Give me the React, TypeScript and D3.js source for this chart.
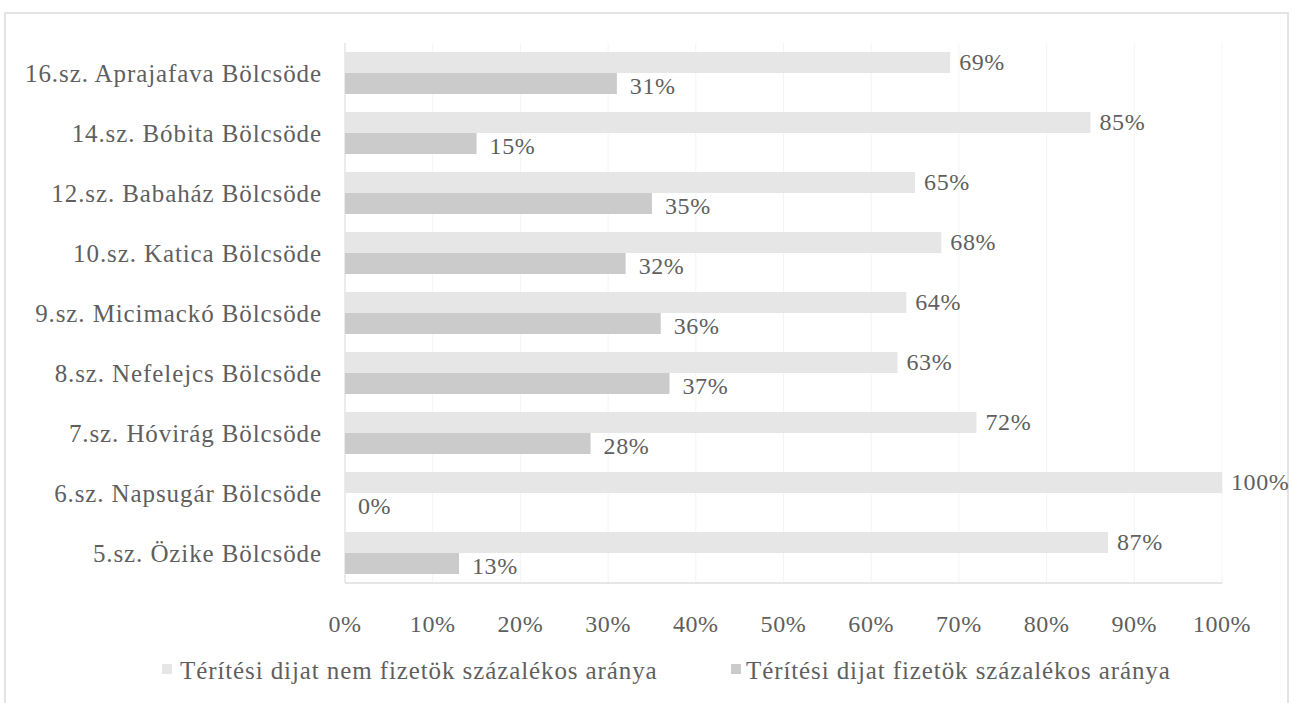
import React from "react";
import * as d3 from "d3";

const categories: string[] = [
  "16.sz. Aprajafava Bölcsöde",
  "14.sz. Bóbita Bölcsöde",
  "12.sz. Babaház Bölcsöde",
  "10.sz. Katica Bölcsöde",
  "9.sz. Micimackó Bölcsöde",
  "8.sz. Nefelejcs Bölcsöde",
  "7.sz. Hóvirág Bölcsöde",
  "6.sz. Napsugár Bölcsöde",
  "5.sz. Özike Bölcsöde",
];
// Térítési díjat nem fizetők (light) / fizetők (dark), percent
const nemFizetok: number[] = [69, 85, 65, 68, 64, 63, 72, 100, 87];
const fizetok: number[] = [31, 15, 35, 32, 36, 37, 28, 0, 13];
const xTicks: number[] = [0, 10, 20, 30, 40, 50, 60, 70, 80, 90, 100];
const seriesNames: string[] = [
  "Térítési dijat nem fizetök százalékos aránya",
  "Térítési dijat fizetök százalékos aránya",
];

const W = 1292;
const H = 703;
const FONT = "Liberation Serif, DejaVu Serif, serif";
const TXT = "#5f5f5f";
const LIGHT = "#e6e6e6";
const DARK = "#cbcbcb";

export default function App() {
  const x = d3.scaleLinear().domain([0, 100]).range([345, 1222]);
  const y = d3
    .scaleBand<string>()
    .domain(categories)
    .range([43, 583])
    .paddingInner(0.3)
    .paddingOuter(0.15);
  const bh = y.bandwidth() / 2;
  const txt = { fontFamily: FONT, fontSize: 25, letterSpacing: 0.9, fill: TXT };
  const num = { fontFamily: FONT, fontSize: 24, letterSpacing: 0.6, fill: TXT };

  return (
    <svg
      width={W}
      height={H}
      style={{ position: "absolute", left: 0, top: 0, background: "#fff" }}
    >
      {/* outer frame */}
      <rect x={5} y={13} width={1283} height={700} fill="none" stroke="#dcdcdc" strokeWidth={1.5} />

      {/* gridlines */}
      {xTicks.map((t) => (
        <line key={"g" + t} x1={x(t)} x2={x(t)} y1={43} y2={583} stroke="#f4f4f4" strokeWidth={1} />
      ))}
      <line x1={x(0)} x2={x(0)} y1={43} y2={583} stroke="#e2e2e2" strokeWidth={1.2} />
      <line x1={x(0)} x2={x(100)} y1={583} y2={583} stroke="#dedede" strokeWidth={1.5} />

      {categories.map((c, i) => {
        const y0 = y(c)!;
        return (
          <g key={c}>
            <text x={322} y={y0 + y.bandwidth() / 2} textAnchor="end" dominantBaseline="central" style={txt}>
              {c}
            </text>
            <rect x={x(0)} y={y0} width={x(nemFizetok[i]) - x(0)} height={bh} fill={LIGHT} />
            <rect x={x(0)} y={y0 + bh} width={x(fizetok[i]) - x(0)} height={bh} fill={DARK} />
            <text x={x(nemFizetok[i]) + 9} y={y0 + bh / 2 - 1} dominantBaseline="central" style={num}>
              {nemFizetok[i]}%
            </text>
            <text x={x(fizetok[i]) + 13} y={y0 + bh * 1.5 + 2} dominantBaseline="central" style={num}>
              {fizetok[i]}%
            </text>
          </g>
        );
      })}

      {xTicks.map((t) => (
        <text key={"t" + t} x={x(t)} y={624} textAnchor="middle" dominantBaseline="central" style={num}>
          {t}%
        </text>
      ))}

      {/* legend */}
      <rect x={162} y={664} width={10} height={10} fill={LIGHT} />
      <text x={180} y={670} dominantBaseline="central" style={txt}>
        {seriesNames[0]}
      </text>
      <rect x={731} y={664} width={10} height={10} fill={DARK} />
      <text x={746} y={670} dominantBaseline="central" style={txt}>
        {seriesNames[1]}
      </text>
    </svg>
  );
}
